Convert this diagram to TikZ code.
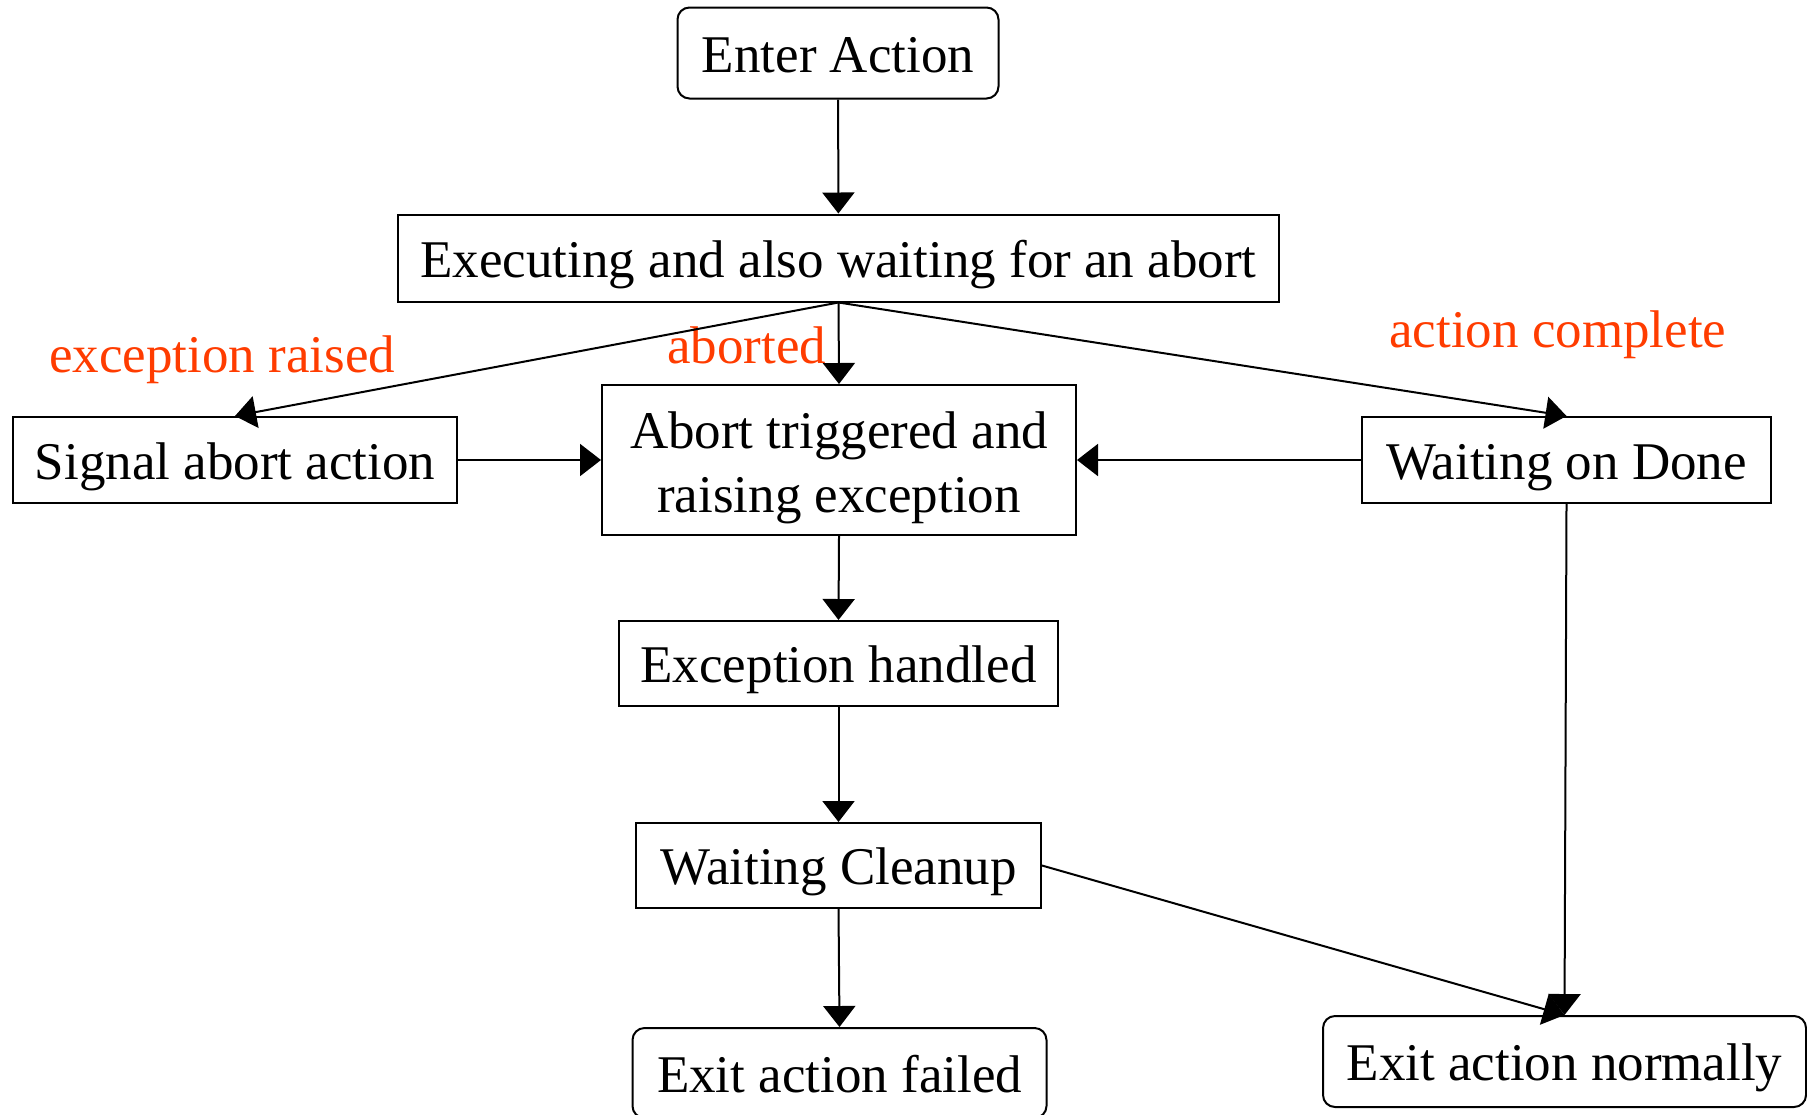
\documentclass[tikz,border=0pt]{standalone}
\usepackage{fontspec}
\setmainfont{Liberation Serif}
\usetikzlibrary{arrows.meta}
\definecolor{labelred}{RGB}{255,60,0}
\begin{document}
\begin{tikzpicture}[x=0.5pt,y=-0.5pt,
  basefont/.style={font=\fontsize{26.5}{31.8}\selectfont},
  box/.style={draw, line width=1pt, inner sep=0pt, basefont,
    text height=20pt, text depth=1pt},
  twoline/.style={draw, line width=1pt, inner sep=0pt, basefont, align=center},
  terminal/.style={box, rounded corners=6pt},
  edgelabel/.style={basefont, text=labelred, inner sep=0pt, anchor=base west},
  flow/.style={line width=1pt, -{Triangle[length=10.5pt,width=16pt]}}]
\useasboundingbox (0,0) rectangle (1807,1114);
\clip (0,0) rectangle (1807,1114);

% states
\node[terminal, minimum width=160.5pt, minimum height=45.5pt] (enter) at (838,53) {Enter Action};
\node[box, minimum width=440.5pt, minimum height=43.5pt] (exec) at (838.5,258) {Executing and also waiting for an abort};
\node[box, minimum width=222pt, minimum height=43pt] (signal) at (235,460) {Signal abort action};
\node[twoline, minimum width=237pt, minimum height=75pt] (abort) at (839,460) {\rule{0pt}{26pt}Abort triggered and\\raising exception};
\node[box, minimum width=204.5pt, minimum height=43pt] (done) at (1566.5,460) {Waiting on Done};
\node[box, minimum width=219.5pt, minimum height=42.5pt] (exch) at (838.5,663.5) {Exception handled};
\node[box, minimum width=202.5pt, minimum height=42.5pt] (cleanup) at (838.5,865.5) {Waiting Cleanup};
\node[terminal, minimum width=207pt, minimum height=45pt] (fail) at (839.5,1073) {Exit action failed};
\node[terminal, minimum width=241.5pt, minimum height=45.5pt] (normal) at (1564.5,1061.5) {Exit action normally};

% transition labels
\node[edgelabel] (lexc) at (49,372) {exception raised};
\node[edgelabel] (labo) at (667,363) {aborted};
\node[edgelabel] (lcom) at (1389,347) {action complete};

% transitions
\draw[flow] (enter) -- (exec);
\draw[flow] (exec.south) -- (signal.north);
\draw[flow] (exec.south) -- (abort.north);
\draw[flow] (exec.south) -- (done.north);
\draw[flow] (signal.east) -- (abort.west);
\draw[flow] (done.west) -- (abort.east);
\draw[flow] (abort.south) -- (exch.north);
\draw[flow] (exch.south) -- (cleanup.north);
\draw[flow] (cleanup.south) -- (fail.north);
\draw[flow] (cleanup.east) -- (normal.north);
\draw[flow] (done.south) -- (normal.north);
\end{tikzpicture}
\end{document}
